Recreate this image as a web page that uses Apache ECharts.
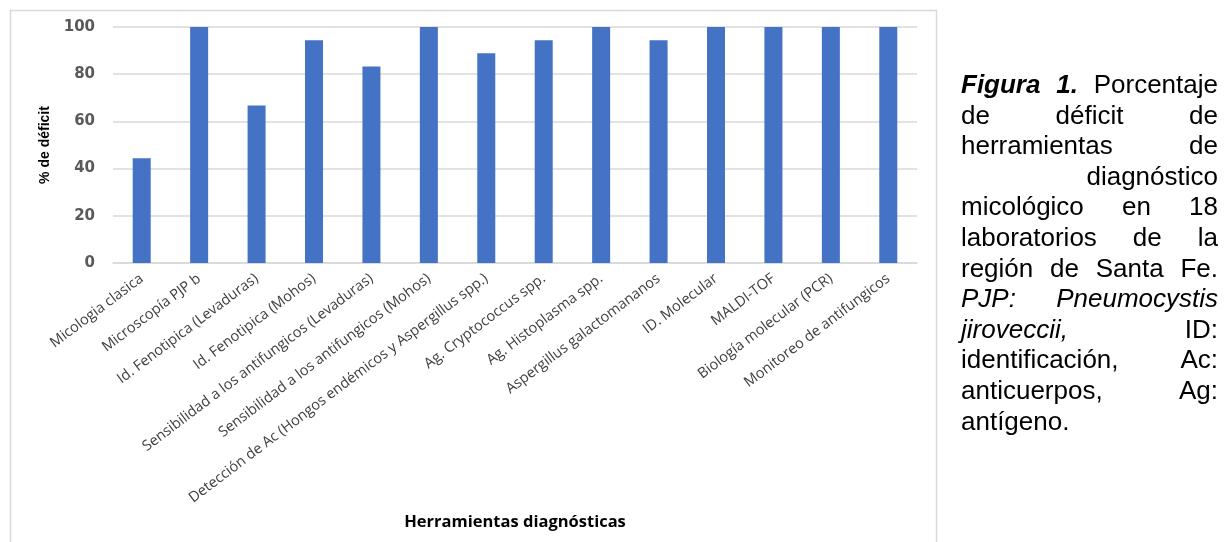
<!DOCTYPE html>
<html>
<head>
<meta charset="utf-8">
<script src="https://cdn.jsdelivr.net/npm/echarts@6/dist/echarts.min.js"></script>
<style>
  html, body { margin: 0; padding: 0; background: #fff; }
  #chart { position: absolute; left: 0; top: 0; width: 1231px; height: 542px; }
  #caption { position: absolute; left: 961px; top: 69px; width: 257px;
    font-family: "Liberation Sans", Arial, sans-serif; font-size: 26px; line-height: 30.6px; color: #000; }
  .ln { display: flex; justify-content: space-between; white-space: nowrap; height: 30.6px; }
  .r { justify-content: flex-end; }
  .l { justify-content: flex-start; }
  .bi { font-weight: bold; font-style: italic; }
  .i { font-style: italic; }
</style>
</head>
<body>
<div id="chart"></div>
<div id="caption">
  <div class="ln"><span class="bi">Figura</span><span class="bi">1.</span><span>Porcentaje</span></div>
  <div class="ln"><span>de</span><span>déficit</span><span>de</span></div>
  <div class="ln"><span>herramientas</span><span>de</span></div>
  <div class="ln r"><span>diagnóstico</span></div>
  <div class="ln"><span>micológico</span><span>en</span><span>18</span></div>
  <div class="ln"><span>laboratorios</span><span>de</span><span>la</span></div>
  <div class="ln"><span>región</span><span>de</span><span>Santa</span><span>Fe.</span></div>
  <div class="ln"><span class="i">PJP:</span><span class="i">Pneumocystis</span></div>
  <div class="ln"><span class="i">jiroveccii,</span><span>ID:</span></div>
  <div class="ln"><span>identificación,</span><span>Ac:</span></div>
  <div class="ln"><span>anticuerpos,</span><span>Ag:</span></div>
  <div class="ln l"><span>antígeno.</span></div>
</div>
<script>
const categories = [
  "Micologia clasica",
  "Microscopía PJP b",
  "Id. Fenotipica (Levaduras)",
  "Id. Fenotipica (Mohos)",
  "Sensibilidad a los antifungicos (Levaduras)",
  "Sensibilidad a los antifungicos (Mohos)",
  "Detección de Ac (Hongos endémicos y Aspergillus spp.)",
  "Ag. Cryptococcus spp.",
  "Ag. Histoplasma spp.",
  "Aspergillus galactomananos",
  "ID. Molecular",
  "MALDI-TOF",
  "Biología molecular (PCR)",
  "Monitoreo de antifungicos"
];
const deficitPct = [44.4, 100, 66.7, 94.4, 83.3, 100, 88.9, 94.4, 100, 94.4, 100, 100, 100, 100];
const yTicks = { min: 0, max: 100, interval: 20 };
const yAxisName = "% de déficit";
const xAxisName = "Herramientas diagnósticas";

const chart = echarts.init(document.getElementById('chart'), null, { renderer: 'canvas' });
chart.setOption({
  animation: false,
  backgroundColor: '#fff',
  graphic: [{
    type: 'rect', silent: true, z: -1,
    shape: { x: 10.5, y: 10.5, width: 926, height: 600 },
    style: { fill: 'none', stroke: '#d9d9d9', lineWidth: 1.5 }
  }],
  grid: { left: 113, right: 314, top: 27, bottom: 279, containLabel: false },
  xAxis: {
    type: 'category',
    data: categories,
    name: xAxisName,
    nameLocation: 'middle',
    nameGap: 251,
    nameTextStyle: { fontFamily: 'Open Sans', fontWeight: 'bold', fontSize: 16.5, color: '#000' },
    axisLine: { show: true, lineStyle: { color: '#d9d9d9', width: 1.5 } },
    axisTick: { show: false },
    axisLabel: { interval: 0, rotate: 37, margin: 14, fontFamily: 'Open Sans', fontSize: 14.5, color: '#404040' }
  },
  yAxis: {
    type: 'value',
    min: yTicks.min, max: yTicks.max, interval: yTicks.interval,
    name: yAxisName,
    nameLocation: 'middle',
    nameRotate: 90,
    nameGap: 61,
    nameTextStyle: { fontFamily: 'Liberation Sans', fontWeight: 'bold', fontSize: 14, color: '#000' },
    axisLine: { show: false },
    axisTick: { show: false },
    splitLine: { lineStyle: { color: '#d9d9d9', width: 1.5 } },
    axisLabel: { margin: 18, fontFamily: 'DejaVu Sans', fontWeight: 'bold', fontSize: 15, color: '#595959' }
  },
  series: [{
    type: 'bar',
    data: deficitPct,
    barWidth: 18,
    itemStyle: { color: '#4472C4' }
  }]
});
</script>
</body>
</html>
